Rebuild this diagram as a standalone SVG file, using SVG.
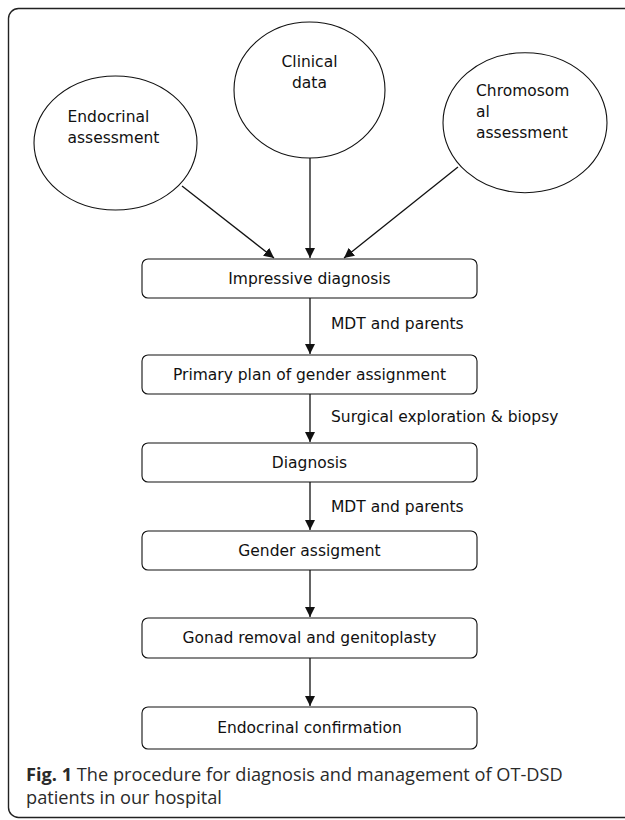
<svg xmlns="http://www.w3.org/2000/svg" width="625" height="820" viewBox="0 0 625 820">
<defs>
<style>
.frame{fill:#fff;stroke:#222;stroke-width:1.4}
.node ellipse,.node rect{fill:#fff;stroke:#111;stroke-width:1.1}
.t{font-family:"DejaVu Sans","Liberation Sans",sans-serif;font-size:15.5px;fill:#111}
.c{text-anchor:middle}
.conn line{stroke:#111;stroke-width:1.3;marker-end:url(#ah)}
.cap{font-family:"Open Sans","Liberation Sans",sans-serif;font-size:18.2px;fill:#2a2a2a}
</style>
<marker id="ah" viewBox="0 0 10 11" refX="10" refY="5.5" markerWidth="10" markerHeight="11" markerUnits="userSpaceOnUse" orient="auto">
<path d="M0,0.5 L10,5.5 L0,10.5 Z" fill="#111"/>
</marker>
</defs>
<rect class="frame" x="8.5" y="8.5" width="640" height="809" rx="10"/>
<g id="endocrinal-assessment" class="node">
<ellipse cx="115.5" cy="143" rx="81.5" ry="67"/>
<text class="t" x="67.5" y="122">Endocrinal</text>
<text class="t" x="67.5" y="143">assessment</text>
</g>
<g id="clinical-data" class="node">
<ellipse cx="309.5" cy="90" rx="75.5" ry="68"/>
<text class="t c" x="309.5" y="67">Clinical</text>
<text class="t c" x="309.5" y="88">data</text>
</g>
<g id="chromosomal-assessment" class="node">
<ellipse cx="525" cy="122.7" rx="82" ry="70"/>
<text class="t" x="476" y="96">Chromosom</text>
<text class="t" x="476" y="117">al</text>
<text class="t" x="476" y="138">assessment</text>
</g>
<g id="impressive-diagnosis" class="node">
<rect x="142" y="259" width="335" height="39" rx="6"/>
<text class="t c" x="309.5" y="284">Impressive diagnosis</text>
</g>
<g id="primary-plan" class="node">
<rect x="142" y="355" width="335" height="39" rx="6"/>
<text class="t c" x="309.5" y="380">Primary plan of gender assignment</text>
</g>
<g id="diagnosis" class="node">
<rect x="142" y="443" width="335" height="39" rx="6"/>
<text class="t c" x="309.5" y="468">Diagnosis</text>
</g>
<g id="gender-assignment" class="node">
<rect x="142" y="531" width="335" height="39" rx="6"/>
<text class="t c" x="309.5" y="556">Gender assigment</text>
</g>
<g id="gonad-removal" class="node">
<rect x="142" y="618" width="335" height="40" rx="6"/>
<text class="t c" x="309.5" y="643">Gonad removal and genitoplasty</text>
</g>
<g id="endocrinal-confirmation" class="node">
<rect x="142" y="707" width="335" height="42" rx="6"/>
<text class="t c" x="309.5" y="733">Endocrinal confirmation</text>
</g>
<g id="connectors" class="conn">
<line x1="182" y1="186" x2="274" y2="258"/>
<line x1="310" y1="158" x2="310" y2="258"/>
<line x1="458" y1="167" x2="344" y2="258"/>
<line x1="310" y1="298" x2="310" y2="354"/>
<line x1="310" y1="394" x2="310" y2="442"/>
<line x1="310" y1="482" x2="310" y2="530"/>
<line x1="310" y1="570" x2="310" y2="617"/>
<line x1="310" y1="658" x2="310" y2="706"/>
</g>
<g id="labels">
<text class="t" x="331" y="329">MDT and parents</text>
<text class="t" x="331" y="422">Surgical exploration &amp; biopsy</text>
<text class="t" x="331" y="512">MDT and parents</text>
</g>
<g id="caption">
<text class="cap" x="26" y="781"><tspan font-weight="bold">Fig. 1</tspan> The procedure for diagnosis and management of OT-DSD</text>
<text class="cap" x="26" y="804">patients in our hospital</text>
</g>
</svg>
